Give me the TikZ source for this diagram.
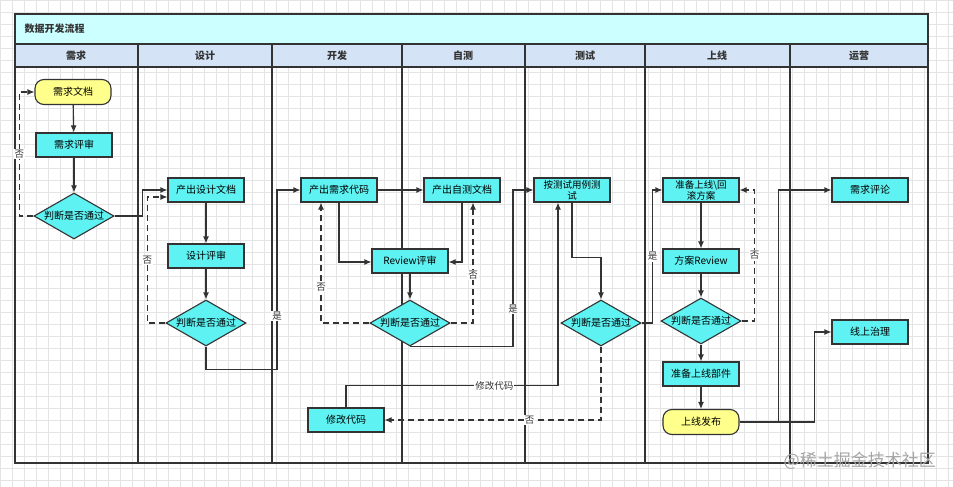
\documentclass[tikz,border=0pt]{standalone}
\usepackage{fontspec}
\setmainfont{Noto Sans CJK SC}
\usetikzlibrary{shapes.geometric,arrows.meta,calc}
\definecolor{cyanfill}{HTML}{5EF2F2}
\definecolor{yellowfill}{HTML}{FFFF8C}
\definecolor{titlefill}{HTML}{CCFFFF}
\definecolor{headfill}{HTML}{D4E3F5}
\definecolor{edge}{HTML}{333333}
\definecolor{gridc}{HTML}{E4E4E4}
\tikzset{
  txt/.style={font=\fontsize{10}{12}\selectfont},
  proc/.style={draw=edge, fill=cyanfill, line width=1.1pt, minimum width=76pt, minimum height=24pt, inner sep=1pt, align=center, txt},
  term/.style={proc, fill=yellowfill, rounded corners=9pt, minimum height=25pt},
  dec/.style={diamond, draw=edge, fill=cyanfill, line width=1.1pt, aspect=1.74, minimum width=80pt, minimum height=46pt, inner sep=0pt, txt},
  arr/.style={draw=edge, line width=1.1pt, -{Latex[length=7pt,width=6pt]}},
  darr/.style={arr, dash pattern=on 6pt off 4pt},
  lbl/.style={fill=white, inner sep=1pt, font=\fontsize{9.5}{11}\selectfont, text=edge},
  head/.style={font=\bfseries\fontsize{10}{12}\selectfont, text=edge},
  frame/.style={draw=edge, line width=1.4pt}
}
\begin{document}
\begin{tikzpicture}[x=1pt,y=-1pt]
\useasboundingbox (0,0) rectangle (953,487);
\fill[white] (0,0) rectangle (953,487);
\foreach \gx in {0,12,...,952} \draw[gridc, line width=0.5pt] (\gx,0) -- (\gx,487);
\foreach \gy in {0,12,...,486} \draw[gridc, line width=0.5pt] (0,\gy) -- (953,\gy);
% bands
\fill[titlefill] (15,14) rectangle (928,44);
\fill[headfill] (15,44) rectangle (928,67);
\draw[frame] (15,14) rectangle (928,463);
\draw[frame] (15,44) -- (928,44);
\draw[frame] (15,67) -- (928,67);
\draw[draw=edge, line width=2.4pt] (15,463) -- (928,463);
\foreach \lx in {138,272,402,525,645,790} \draw[frame] (\lx,44) -- (\lx,463);
\node[head, anchor=west] (title) at (21,29) {数据开发流程};
\node[head] (h1) at (76,56) {需求};
\node[head] (h2) at (205,56) {设计};
\node[head] (h3) at (337,56) {开发};
\node[head] (h4) at (463,56) {自测};
\node[head] (h5) at (585,56) {测试};
\node[head] (h6) at (717,56) {上线};
\node[head] (h7) at (859,56) {运营};
% nodes
\node[term] (rd) at (73,92) {需求文档};
\node[proc] (rr) at (74,145) {需求评审};
\node[dec] (d1) at (74,216) {判断是否通过};
\node[proc] (pd) at (206,190) {产出设计文档};
\node[proc] (dr) at (206,256) {设计评审};
\node[dec] (d2) at (206,323) {判断是否通过};
\node[proc] (cd) at (339,190) {产出需求代码};
\node[proc] (td) at (462,190) {产出自测文档};
\node[proc] (rv) at (410,261) {Review评审};
\node[dec] (d3) at (410,323) {判断是否通过};
\node[proc, font=\fontsize{9.5}{11}\selectfont] (tc) at (572,190) {按测试用例测\\试};
\node[dec] (d4) at (601,323) {判断是否通过};
\node[proc] (fix) at (346,420) {修改代码};
\node[proc, font=\fontsize{9.5}{11}\selectfont] (up) at (701,190) {准备上线\textbackslash 回\\滚方案};
\node[proc] (plan) at (701,261) {方案Review};
\node[dec] (d5) at (701,321) {判断是否通过};
\node[proc] (part) at (701,374) {准备上线部件};
\node[term] (rel) at (701,422) {上线发布};
\node[proc] (req) at (870,190) {需求评论};
\node[proc] (gov) at (870,332) {线上治理};
% connectors
\draw[arr] (rd) -- (rr);
\draw[arr] (rr) -- (d1);
\draw[darr] (d1.west) -- ++(-14,0) |- node[lbl, pos=0.25] {否} (rd.west);
\draw[arr] (d1.east) -- ++(28,0) |- (pd.west);
\draw[arr] (pd) -- (dr);
\draw[arr] (dr) -- (d2);
\draw[darr] (d2.west) -- ++(-18,0) |- node[lbl, pos=0.25] {否} ($(pd.west)+(0,7)$);
\draw[arr] (d2.south) -- ++(0,23) -- ++(71,0) |- node[lbl, pos=0.15] {是} (cd.west);
\draw[arr] (cd) -- (td);
\draw[arr] (cd.south) |- ($(rv.west)+(0,1)$);
\draw[arr] (td.south) |- ($(rv.east)+(0,1)$);
\draw[arr] (rv) -- (d3);
\draw[darr] (d3.west) -| node[lbl, pos=0.65] {否} ($(cd.south)+(-18,0)$);
\draw[darr] (d3.east) -| node[lbl, pos=0.7] {否} ($(td.south)+(11,0)$);
\draw[arr] (d3.south) -- ++(103,0) |- node[lbl, pos=0.12] {是} (tc.west);
\draw[arr] (tc.south) -- ++(0,55) -| (d4.north);
\draw[arr] (d4.east) -- ++(11,0) |- node[lbl, pos=0.25] {是} (up.west);
\draw[darr] (d4.south) |- node[lbl, pos=0.665] {否} (fix.east);
\draw[arr] (fix.north) -- ++(0,-22) -| node[lbl, pos=0.35] {修改代码} ($(tc.south)+(-14,0)$);
\draw[arr] (up) -- (plan);
\draw[arr] (plan) -- (d5);
\draw[arr] (d5) -- (part);
\draw[arr] (part) -- (rel);
\draw[darr] (d5.east) -- ++(13,0) |- node[lbl, pos=0.25] {否} (up.east);
\draw[arr] (rel.east) -- ++(39,0) |- (req.west);
\draw[arr] (rel.east) -- ++(75,0) |- (gov.west);
\node[anchor=east, text=black!35, font=\fontsize{17}{20}\selectfont, inner sep=0pt] (wm) at (936,461) {@稀土掘金技术社区};
\end{tikzpicture}
\end{document}
